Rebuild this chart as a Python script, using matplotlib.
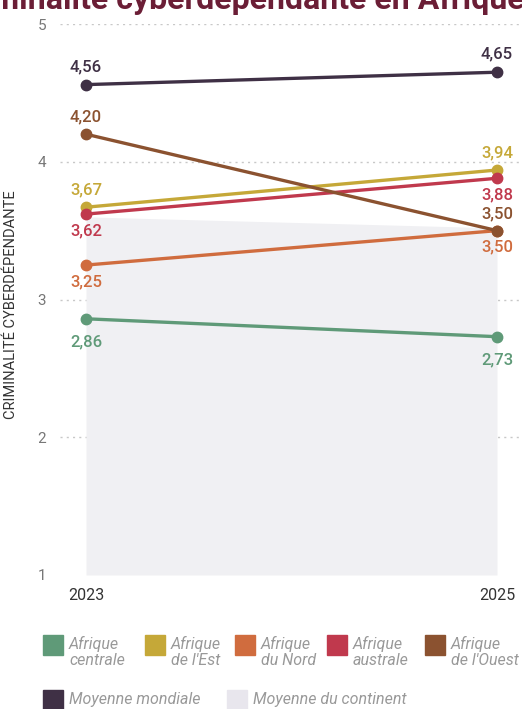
import matplotlib.pyplot as plt
from matplotlib.patches import Rectangle

years = [2023, 2025]
regions = ['Afrique\ncentrale', "Afrique\nde l'Est", 'Afrique\ndu Nord',
           'Afrique\naustrale', "Afrique\nde l'Ouest"]
values = [[2.86, 2.73], [3.67, 3.94], [3.25, 3.50], [3.62, 3.88], [4.20, 3.50]]
colors = ['#5f9a78', '#c5a838', '#d06c3e', '#c0394d', '#8b5230']
# label offset in points: positive above, negative below
label_off = [[-11, -11], [7, 7], [-6.5, -6.5], [-7, -6.5], [7, 7]]

world = [4.56, 4.65]
world_color = '#3f3045'
continent = [3.60, 3.52]
continent_color = '#f0f0f3'

plt.rcParams['font.family'] = ['Roboto', 'DejaVu Sans']

W, H = 522, 709
fig = plt.figure(figsize=(W / 100, H / 100), dpi=100)

def fx(px):
    return px / W

def fy(py):
    return 1 - py / H

ax = fig.add_axes([fx(60), fy(575), fx(462), 551 / H])
ax.set_xlim(2023 - 26 / 205.5, 2025 + 25 / 205.5)
ax.set_ylim(1, 5)

ax.fill_between(years, continent, 1, color=continent_color, lw=0, zorder=1)

for y in [2, 3, 4, 5]:
    ax.axhline(y, color='#c8c8c8', lw=1, ls=(0, (1.5, 3)), zorder=0)

def fmt(v):
    return ('%.2f' % v).replace('.', ',')

def draw(vals, col, offs):
    ax.plot(years, vals, color=col, lw=2.4, marker='o', ms=7.5, zorder=3,
            clip_on=False, solid_capstyle='round')
    for x, v, o in zip(years, vals, offs):
        ax.annotate(fmt(v), (x, v), xytext=(0, o), textcoords='offset points',
                    ha='center', va='bottom' if o > 0 else 'top',
                    fontsize=12, color=col, fontweight='medium')

for vals, col, offs in zip(values, colors, label_off):
    draw(vals, col, offs)
draw(world, world_color, [7.5, 7.5])

ax.set_xticks(years)
ax.set_xticklabels(['2023', '2025'], fontsize=11.5, color='#333333')
ax.set_yticks([1, 2, 3, 4, 5])
ax.set_yticklabels(['1', '2', '3', '4', '5'], fontsize=11, color='#777777')
ax.tick_params(length=0, pad=9)
ax.tick_params(axis='y', pad=10)
for s in ax.spines.values():
    s.set_visible(False)
ax.set_ylabel('CRIMINALITÉ CYBERDÉPENDANTE', fontsize=10.5, color='#333333')
ax.yaxis.set_label_coords(-0.09, 0.49)

# cropped title at top
fig.text(fx(-50), fy(9), 'Criminalité cyberdépendante en Afrique', fontsize=23,
         fontweight='bold', color='#6b1e36', ha='left', va='baseline')

# legend
leg_x = [43, 145, 235, 327, 425]
for x, lab, col in zip(leg_x, regions, colors):
    fig.add_artist(Rectangle((fx(x), fy(655)), fx(20), 20 / H, color=col,
                             transform=fig.transFigure))
    fig.text(fx(x + 26), fy(636), lab, fontsize=11.5, style='italic',
             color='#999999', ha='left', va='top', linespacing=1.1)

for x, lab, col in [(43, 'Moyenne mondiale', world_color),
                    (227, 'Moyenne du continent', '#e8e6ed')]:
    fig.add_artist(Rectangle((fx(x), fy(710)), fx(20), 20 / H, color=col,
                             transform=fig.transFigure))
    fig.text(fx(x + 26), fy(692), lab, fontsize=11.5, style='italic',
             color='#999999', ha='left', va='top')

fig.savefig('out.png', dpi=100)
